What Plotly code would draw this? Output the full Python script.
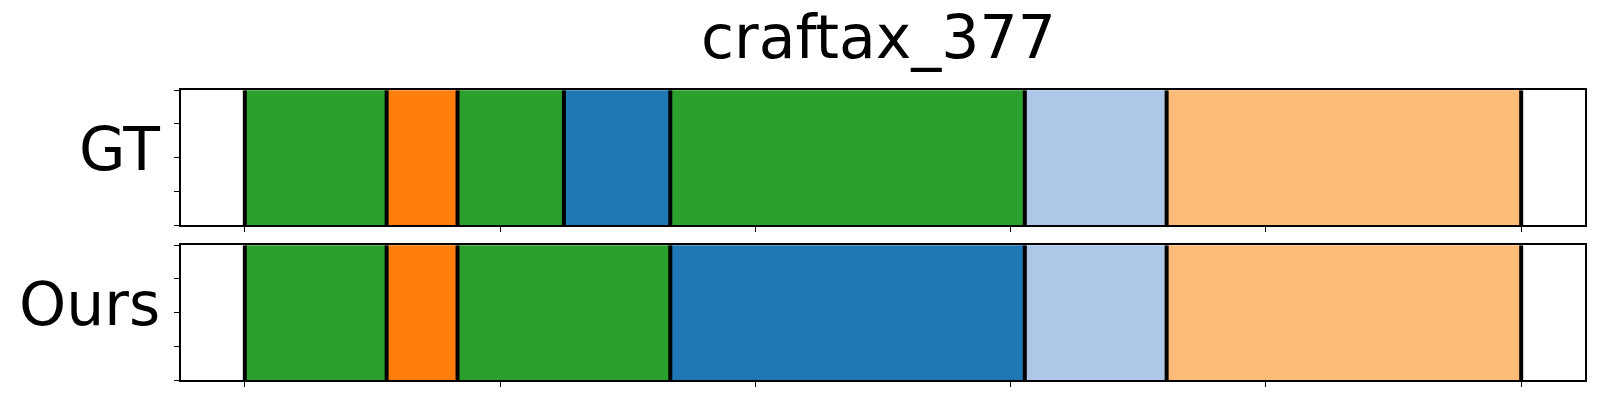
import plotly.graph_objects as go

# ---- data ----
title_text = "craftax_377"
row_labels = ["GT", "Ours"]
class_colors = {
    "c0": "#2ca02c",
    "c1": "#ff7f0e",
    "c2": "#1f77b4",
    "c3": "#aec7e8",
    "c4": "#ffbb78",
}
gt_classes = ["c0", "c1", "c0", "c2", "c0", "c3", "c4"]
gt_lengths = [40, 20, 30, 30, 100, 40, 100]
ours_classes = ["c0", "c1", "c0", "c2", "c3", "c4"]
ours_lengths = [40, 20, 60, 100, 40, 100]
total_len = 360
tick_vals = [0, 72, 144, 216, 288, 360]
ytick_vals = [0, 0.25, 0.5, 0.75, 1.0]

W, H = 1600, 400
ml, mr, mt, mb = 181, 15, 90, 20
plot_h = H - mt - mb

def dom(top_px, bot_px):
    return [(H - mb - bot_px) / plot_h, (H - mb - top_px) / plot_h]

fig = go.Figure()
rows = [(gt_classes, gt_lengths), (ours_classes, ours_lengths)]
axes = [("x", "y"), ("x2", "y2")]
for (classes, lengths), (xa, ya) in zip(rows, axes):
    starts = []
    s = 0
    for L in lengths:
        starts.append(s)
        s += L
    for c, st, L in zip(classes, starts, lengths):
        fig.add_trace(go.Bar(
            x=[L], y=[0.5], base=[st], orientation="h", width=1.0,
            marker=dict(color=class_colors[c], line=dict(width=0)),
            xaxis=xa, yaxis=ya, showlegend=False, hoverinfo="skip"))
    bounds = starts + [s]
    lx, ly = [], []
    for b in bounds:
        lx += [b, b, None]
        ly += [0, 1, None]
    fig.add_trace(go.Scatter(x=lx, y=ly, mode="lines",
                             line=dict(color="black", width=4),
                             xaxis=xa, yaxis=ya, showlegend=False,
                             hoverinfo="skip", cliponaxis=True))

xr = [-0.05 * total_len, 1.05 * total_len]
ax_common = dict(range=xr, showgrid=False, zeroline=False, showline=True,
                 mirror=True, linecolor="black", linewidth=1.5,
                 ticks="outside", ticklen=5, tickwidth=1.2, tickcolor="black",
                 tickvals=tick_vals, showticklabels=False)
ay_common = dict(range=[0, 1], showgrid=False, zeroline=False, showline=True,
                 mirror=True, linecolor="black", linewidth=1.5,
                 ticks="outside", ticklen=5, tickwidth=1.2, tickcolor="black",
                 tickvals=ytick_vals, showticklabels=False)

fig.update_layout(
    width=W, height=H,
    margin=dict(l=ml, r=mr, t=mt, b=mb),
    paper_bgcolor="white", plot_bgcolor="white",
    barmode="overlay", bargap=0,
    font=dict(family="DejaVu Sans", color="black"),
    xaxis=dict(domain=[0, 1], anchor="y", **ax_common),
    yaxis=dict(domain=dom(90.3, 225), anchor="x", **ay_common),
    xaxis2=dict(domain=[0, 1], anchor="y2", **ax_common),
    yaxis2=dict(domain=dom(245.3, 380), anchor="x2", **ay_common),
)

fig.add_annotation(text=title_text, xref="paper", yref="paper", x=0.497, y=1,
                   xanchor="center", yanchor="middle", yshift=53,
                   showarrow=False, font=dict(size=60, family="DejaVu Sans"))
for lab, ya in zip(row_labels, ["y domain", "y2 domain"]):
    fig.add_annotation(text=lab, xref="paper", yref=ya, x=0, y=0.5,
                       xanchor="right", yanchor="middle", xshift=-19, yshift=9,
                       showarrow=False, font=dict(size=60, family="DejaVu Sans"))

fig.write_html("out.html", config={"displayModeBar": False},
               post_script="document.body.style.margin='0';document.body.style.padding='0';")
